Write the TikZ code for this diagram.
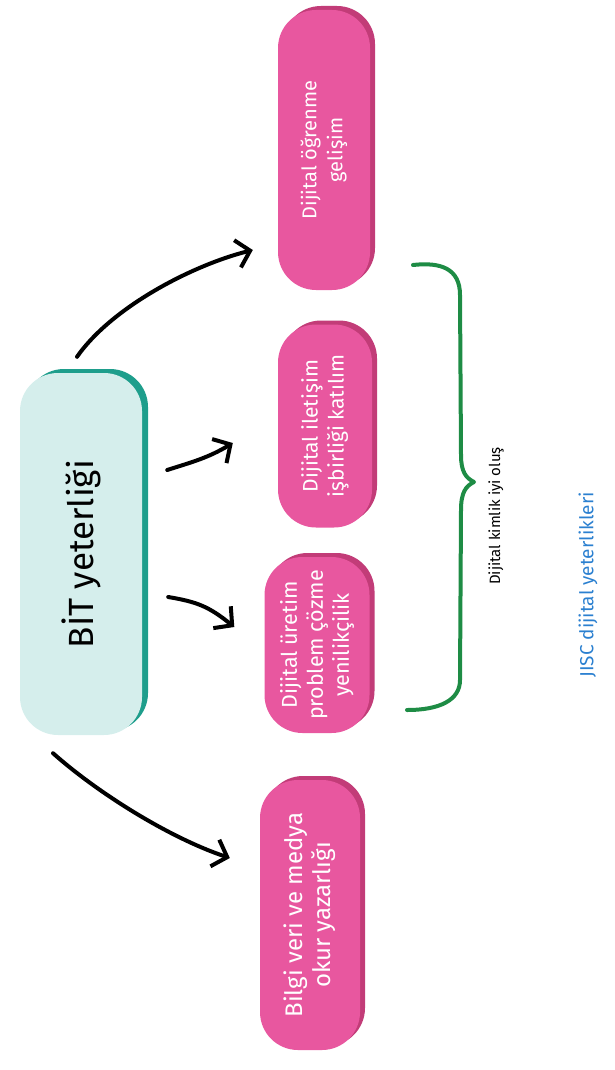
\documentclass[tikz,border=0pt]{standalone}
\usepackage{fontspec}
\setmainfont{Fira Sans}
\usetikzlibrary{arrows.meta,shadows}
\definecolor{bitfill}{HTML}{D5EEEC}
\definecolor{bitdark}{HTML}{1E9E8C}
\definecolor{pinkfill}{HTML}{E8579F}
\definecolor{pinkdark}{HTML}{C23C78}
\definecolor{bracegreen}{HTML}{1E8C45}
\definecolor{jiscblue}{HTML}{2B80D0}
\tikzset{every node/.style={font=\fontsize{20}{26}\selectfont}}
\tikzset{pill/.style={rounded corners=38pt,rotate=90,align=center,inner sep=0pt}}
\tikzset{pinkpill/.style={pill,fill=pinkfill,text=white,drop shadow={shadow xshift=5pt,shadow yshift=4pt,fill=pinkdark,opacity=1}}}
\tikzset{bitpill/.style={pill,fill=bitfill,drop shadow={shadow xshift=6pt,shadow yshift=4pt,fill=bitdark,opacity=1}}}
\tikzset{arr/.style={line width=4pt,line cap=round,-{Straight Barb[length=13pt,width=28pt]}}}
\tikzset{brace/.style={line width=4pt,bracegreen,line cap=round,line join=round}}

\begin{document}
\begin{tikzpicture}[x=1pt,y=-1pt]
\useasboundingbox (0,0) rectangle (615,1070);

\node[bitpill,minimum width=362pt,minimum height=122pt,font=\fontsize{35}{40}\selectfont] (bit) at (81,554) {BİT yeterliği};
\node[pinkpill,minimum width=280pt,minimum height=92pt] (ogrenme) at (324,150) {Dijital öğrenme\\gelişim};
\node[pinkpill,minimum width=203pt,minimum height=94pt,font=\fontsize{21}{26}\selectfont] (iletisim) at (325,426) {Dijital iletişim\\işbirliği katılım};
\node[pinkpill,minimum width=176pt,minimum height=105pt,font=\fontsize{21.5}{26}\selectfont] (uretim) at (317,645) {Dijital üretim\\problem çözme\\yenilikçilik};
\node[pinkpill,minimum width=270pt,minimum height=100pt,font=\fontsize{24}{28}\selectfont] (bilgi) at (310,915) {Bilgi veri ve medya\\okur yazarlığı};

\draw[arr] ([shift={(-4,-16)}]bit.east) .. controls +(35,-50) and +(-60,15) .. ([shift={(-25,100)}]ogrenme.north);
\draw[arr] ([shift={(25,-84)}]bit.south) .. controls +(25,-8) and +(-25,15) .. ([shift={(-45,17)}]iletisim.north);
\draw[arr] ([shift={(26,43)}]bit.south) .. controls +(30,5) and +(-25,-20) .. ([shift={(-30,-18)}]uretim.north);
\draw[arr] ([shift={(-28,18)}]bit.west) .. controls +(45,40) and +(-60,-20) .. ([shift={(-30,-57)}]bilgi.north);

\draw[brace] (413,265) .. controls (440,262) and (460,268) .. (460,295) -- (461,455) .. controls (461,472) and (466,478) .. (474,482) .. controls (466,486) and (461,492) .. (461,510) -- (460,680) .. controls (460,700) and (440,710) .. (407,710);

\node[rotate=90,font=\fontsize{15}{18}\selectfont] (kimlik) at (496,516) {Dijital kimlik iyi oluş};
\node[rotate=90,text=jiscblue,font=\fontsize{19}{22}\selectfont] (jisc) at (588,585) {JISC dijital yeterlikleri};

\end{tikzpicture}
\end{document}
